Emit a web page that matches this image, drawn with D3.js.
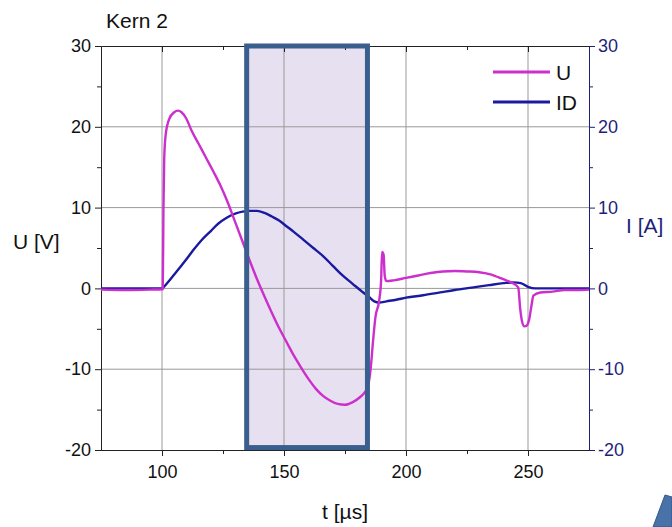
<!DOCTYPE html>
<html><head><meta charset="utf-8">
<script src="https://cdn.jsdelivr.net/npm/d3@7"></script>
<style>body{margin:0;background:#fff}svg{display:block}text{font-family:"Liberation Sans",Arial,sans-serif}</style>
</head><body><svg id="c" width="672" height="527"></svg>
<script>
const title = "Kern 2";
const xTicks = [100, 150, 200, 250];
const xMinor = [125, 175, 225];
const yTicks = [-20, -10, 0, 10, 20, 30];
const yMinor = [-15, -5, 5, 15, 25];
const highlight = [134.7, 184.2, -19.7, 30];
const uT = [75,85,95,100.3,100.6,100.9,101.5,103,105,106.5,108,110,112,115,118,121,124,127,130,133,136,139,142,145,148,151,154,157,160,163,166,169,172,175,178,181,183,184.5,185.5,186.5,187.5,189,189.8,190.2,190.8,191.3,192,195,200,205,210,215,220,225,230,235,238,241,244,246,246.8,247.5,248.5,249.5,250.5,251.5,252.2,255,260,265,270,275];
const uV = [-0.15,-0.2,-0.15,-0.1,10,16,19,21,21.8,22,21.8,21,19.6,17.9,16.2,14.5,12.7,10.6,8.2,5.8,3.4,1.1,-1.0,-3.0,-4.9,-6.6,-8.3,-9.8,-11.2,-12.4,-13.3,-13.9,-14.3,-14.4,-14.1,-13.5,-12.9,-12,-10,-6.5,-3.5,-1.5,1,4.5,4.2,1.5,0.9,1.0,1.3,1.6,1.9,2.1,2.15,2.1,2.0,1.7,1.35,1.0,0.6,0.1,-2.5,-4.0,-4.7,-4.6,-3.8,-2.0,-0.9,-0.5,-0.4,-0.2,-0.2,-0.15];
const iT = [75,100,100.5,102,106,110,113,116,120,123,126.5,130,133,136,139,142,145,148,151,154,158,162,166,170,174,178,182,185,187,189,192,196,200,207,214,220,227,234,240,244,247,250,253,275];
const iV = [0,0,0.1,0.6,2.1,3.6,4.8,5.9,7.1,8.0,8.75,9.25,9.5,9.6,9.6,9.35,8.9,8.4,7.7,7.0,6.0,5.0,4.0,2.8,1.6,0.6,-0.4,-1.1,-1.6,-1.75,-1.6,-1.4,-1.15,-0.85,-0.5,-0.2,0.1,0.4,0.65,0.75,0.65,0.2,0.0,0];
const seriesNames = ["U", "ID"];
const colors = ["#cc2fcc", "#1a1aa0"];

(function () {
const svg = d3.select("#c");
const L = 101, R = 589, T = 46, B = 450;
const x = d3.scaleLinear().domain([75, 275]).range([L, R]);
const y = d3.scaleLinear().domain([-20, 30]).range([B, T]);
const y2 = d3.scaleLinear().domain([-20, 30]).range([B, T]);
const navy = "#1f1f7a";
const font = '"Liberation Sans",Arial,sans-serif';
const fmt = d => String(d);

svg.append("rect").attr("x", x(highlight[0])).attr("y", y(highlight[3]))
  .attr("width", x(highlight[1]) - x(highlight[0])).attr("height", y(highlight[2]) - y(highlight[3]))
  .attr("fill", "#e7e0f0");

const g = svg.append("g");
g.selectAll(".vg").data(xTicks).join("line").attr("x1", d => x(d)).attr("x2", d => x(d))
  .attr("y1", T).attr("y2", B).attr("stroke", "#999").attr("stroke-width", 1);
g.selectAll(".hg").data(yTicks.filter(d => d > -20 && d < 30)).join("line").attr("y1", d => y(d)).attr("y2", d => y(d))
  .attr("x1", L).attr("x2", R).attr("stroke", "#999").attr("stroke-width", 1);

const fs = "18px";
const axB = svg.append("g").attr("transform", `translate(0,${B})`)
  .call(d3.axisBottom(x).tickValues(xTicks).tickFormat(fmt).tickSize(6).tickPadding(9).tickSizeOuter(0));
const axBm = svg.append("g").attr("transform", `translate(0,${B})`)
  .call(d3.axisBottom(x).tickValues(xMinor).tickSize(4).tickFormat("").tickSizeOuter(0));
const axT = svg.append("g").attr("transform", `translate(0,${T})`)
  .call(d3.axisBottom(x).tickValues(xTicks).tickSize(6).tickFormat("").tickSizeOuter(0));
const axTm = svg.append("g").attr("transform", `translate(0,${T})`)
  .call(d3.axisBottom(x).tickValues(xMinor).tickSize(4).tickFormat("").tickSizeOuter(0));
const axL = svg.append("g").attr("transform", `translate(${L},0)`)
  .call(d3.axisLeft(y).tickValues(yTicks).tickFormat(fmt).tickSize(6).tickPadding(4).tickSizeOuter(0));
const axLm = svg.append("g").attr("transform", `translate(${L},0)`)
  .call(d3.axisLeft(y).tickValues(yMinor).tickSize(4).tickFormat("").tickSizeOuter(0));
const axR = svg.append("g").attr("transform", `translate(${R},0)`)
  .call(d3.axisRight(y2).tickValues(yTicks).tickFormat(fmt).tickSize(6).tickPadding(3).tickSizeOuter(0));
const axRm = svg.append("g").attr("transform", `translate(${R},0)`)
  .call(d3.axisRight(y2).tickValues(yMinor).tickSize(4).tickFormat("").tickSizeOuter(0));
[axB, axBm, axT, axTm, axL, axLm].forEach(a => {
  a.selectAll("path,line").attr("stroke", "#222");
  a.selectAll("text").attr("font-size", fs).attr("fill", "#111").style("font-family", font);
});
[axR, axRm].forEach(a => {
  a.selectAll("path,line").attr("stroke", navy);
  a.selectAll("text").attr("font-size", fs).attr("fill", navy).style("font-family", font);
});

const lineU = d3.line().x(d => x(d[0])).y(d => y(d[1])).curve(d3.curveMonotoneX);
const lineI = d3.line().x(d => x(d[0])).y(d => y2(d[1])).curve(d3.curveMonotoneX);
svg.append("path").datum(iT.map((t, i) => [t, iV[i]])).attr("d", lineI)
  .attr("fill", "none").attr("stroke", colors[1]).attr("stroke-width", 2.4).attr("stroke-linejoin", "round");
svg.append("path").datum(uT.map((t, i) => [t, uV[i]])).attr("d", lineU)
  .attr("fill", "none").attr("stroke", colors[0]).attr("stroke-width", 2.4).attr("stroke-linejoin", "round");

svg.append("rect").attr("x", x(highlight[0])).attr("y", y(highlight[3]))
  .attr("width", x(highlight[1]) - x(highlight[0])).attr("height", y(highlight[2]) - y(highlight[3]))
  .attr("fill", "none").attr("stroke", "#3a5f8e").attr("stroke-width", 5);

const lg = svg.append("g");
seriesNames.forEach((n, i) => {
  const ly = 72 + i * 30;
  lg.append("line").attr("x1", 493).attr("x2", 550).attr("y1", ly).attr("y2", ly)
    .attr("stroke", colors[i]).attr("stroke-width", 3);
  lg.append("text").attr("x", 556).attr("y", ly + 7.5).attr("font-size", "21px").attr("fill", "#111").text(n);
});

svg.append("text").attr("x", 106).attr("y", 28).attr("font-size", "21px").attr("fill", "#111").text(title);
svg.append("text").attr("x", 13).attr("y", 249).attr("font-size", "21px").attr("fill", "#111").text("U [V]");
svg.append("text").attr("x", 626).attr("y", 233).attr("font-size", "21px").attr("fill", navy).text("I [A]");
svg.append("text").attr("x", (L + R) / 2).attr("y", 519).attr("text-anchor", "middle").attr("font-size", "21px").attr("fill", "#111").text("t [µs]");

svg.append("polygon").attr("points", "653,527 665,495 672,497 672,527").attr("fill", "#4872a8").attr("stroke", "#34598a").attr("stroke-width", 1);
})();
</script></body></html>
